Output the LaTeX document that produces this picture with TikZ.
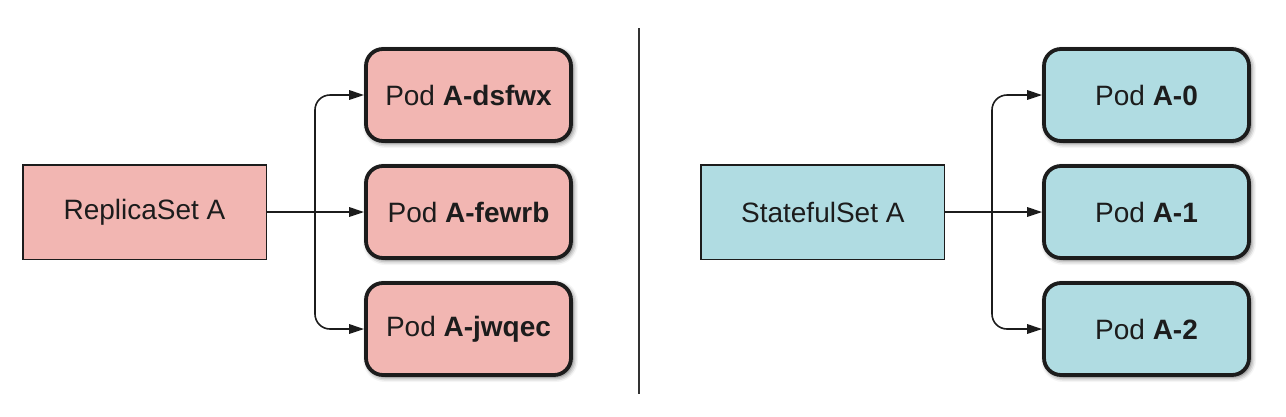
\documentclass[tikz,border=0pt]{standalone}
\usepackage{fontspec}
\setmainfont{Liberation Sans}
\usetikzlibrary{arrows.meta,shadows.blur}
\definecolor{pinkfill}{HTML}{F2B6B2}
\definecolor{tealfill}{HTML}{B0DCE2}
\definecolor{ink}{HTML}{1C1C1C}
\begin{document}
\begin{tikzpicture}[x=1pt,y=-1pt,
  font=\fontsize{28}{32}\selectfont,
  setbox/.style={draw=ink, line width=1.5pt, minimum width=243.5pt, minimum height=94.5pt, text=ink, inner sep=0pt},
  podbox/.style={draw=ink, line width=3.8pt, rounded corners=17pt, minimum width=205pt, minimum height=92pt, text=ink, inner sep=0pt,
     blur shadow={shadow xshift=2pt, shadow yshift=-2pt, shadow blur radius=5pt, shadow opacity=65}},
  conn/.style={draw=ink, line width=1.6pt, -{Triangle[length=15pt,width=9.5pt]}},
  branch/.style={conn, rounded corners=15pt}
]
\useasboundingbox (0,0) rectangle (1286,416);
% left
\node[setbox, fill=pinkfill] (rs) at (144.5,212) {ReplicaSet A};
\node[podbox, fill=pinkfill] (p1) at (468.5,95) {Pod \textbf{A-dsfwx}};
\node[podbox, fill=pinkfill] (p2) at (468.5,212) {Pod \textbf{A-fewrb}};
\node[podbox, fill=pinkfill] (p3) at (468.5,329) {Pod \textbf{A-jwqec}};
\coordinate (bl) at (315,212);
\draw[conn] (rs.east) -- (p2.west);
\draw[branch] (bl) |- (p1.west);
\draw[branch] (bl) |- (p3.west);
% divider
\coordinate (dt) at (639,28);
\coordinate (db) at (639,394);
\draw[line width=2pt, draw=ink!90] (dt) -- (db);
% right
\node[setbox, fill=tealfill] (ss) at (822.8,212) {StatefulSet A};
\node[podbox, fill=tealfill] (q0) at (1146.5,95) {Pod \textbf{A-0}};
\node[podbox, fill=tealfill] (q1) at (1146.5,212) {Pod \textbf{A-1}};
\node[podbox, fill=tealfill] (q2) at (1146.5,329) {Pod \textbf{A-2}};
\coordinate (br) at (992,212);
\draw[conn] (ss.east) -- (q1.west);
\draw[branch] (br) |- (q0.west);
\draw[branch] (br) |- (q2.west);
\end{tikzpicture}
\end{document}
